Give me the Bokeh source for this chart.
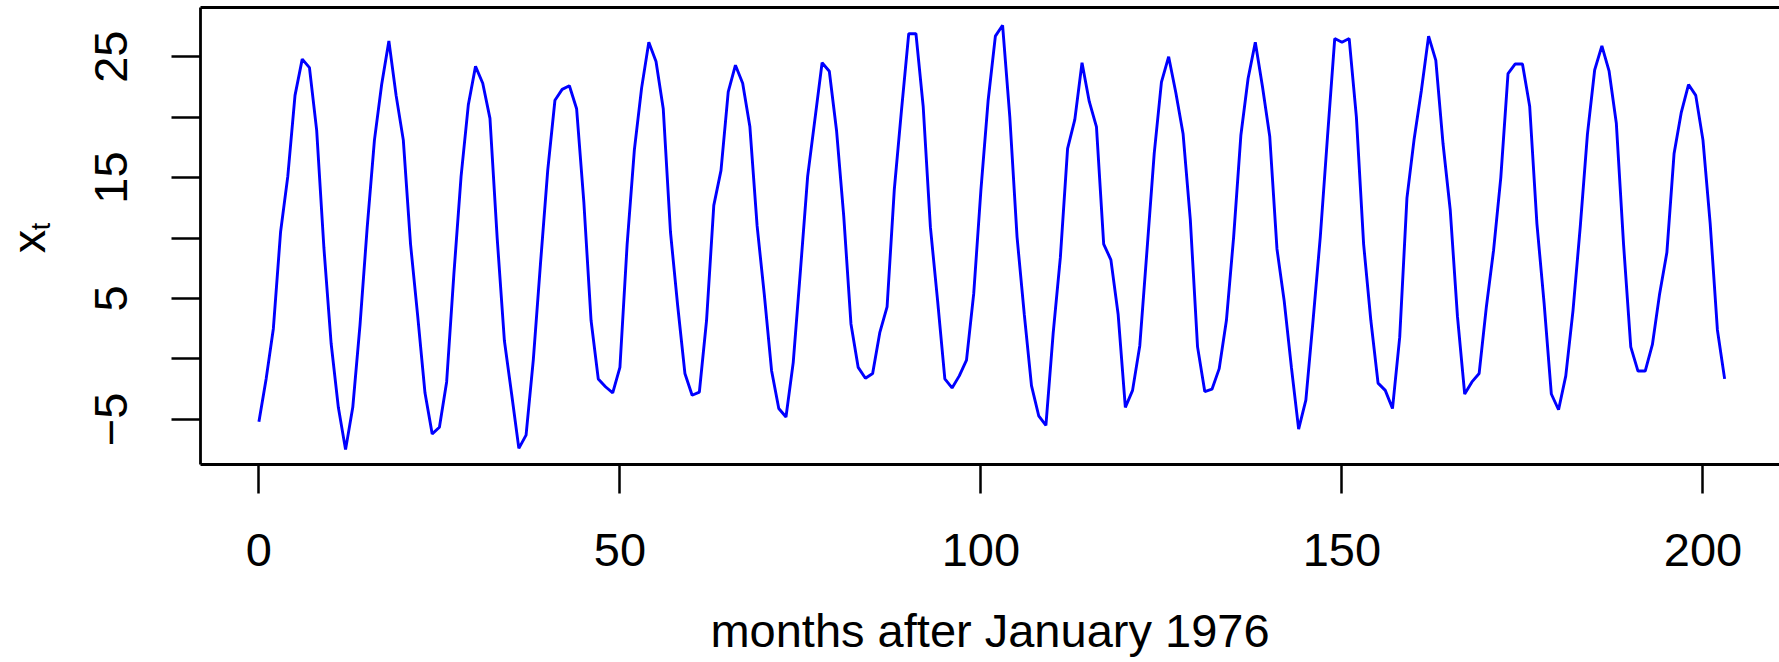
import math
from bokeh.plotting import figure
from bokeh.layouts import row
from bokeh.models import Range1d, FixedTicker, LinearAxis
from bokeh.core.properties import value
from bokeh.embed import file_html
from bokeh.resources import INLINE

# months after January 1976
months = list(range(204))
# series values x_t
xt = [
    -5.2, -1.65, 2.5, 10.5, 15.1, 21.8, 24.8, 24.1, 18.9, 9.2,
    1.3, -4.0, -7.5, -4.0, 2.8, 10.9, 18.1, 22.7, 26.3, 21.8,
    18.1, 9.5, 3.5, -2.8, -6.2, -5.65, -1.9, 7.0, 15.1, 21.0,
    24.2, 22.8, 19.9, 10.0, 1.5, -2.9, -7.4, -6.3, -0.1, 7.9,
    15.6, 21.4, 22.3, 22.6, 20.7, 13.0, 3.2, -1.65, -2.3, -2.8,
    -0.7, 9.5, 17.3, 22.4, 26.2, 24.6, 20.7, 10.5, 4.4, -1.2,
    -3.0, -2.75, 3.2, 12.7, 15.6, 22.1, 24.3, 22.8, 19.2, 11.0,
    5.3, -0.95, -4.1, -4.8, -0.3, 7.3, 15.1, 19.8, 24.5, 23.8,
    18.9, 11.8, 2.9, -0.7, -1.6, -1.2, 2.2, 4.3, 14.0, 20.6,
    26.9, 26.9, 20.9, 10.9, 4.8, -1.65, -2.4, -1.4, -0.1, 5.4,
    14.0, 21.4, 26.7, 27.6, 20.0, 10.1, 3.7, -2.2, -4.7, -5.5,
    2.1, 8.4, 17.4, 19.8, 24.5, 21.3, 19.2, 9.5, 8.2, 3.7,
    -4.0, -2.6, 1.1, 9.0, 17.0, 22.9, 25.0, 22.0, 18.6, 11.5,
    1.0, -2.7, -2.5, -0.8, 3.2, 10.1, 18.5, 23.2, 26.2, 22.5,
    18.4, 9.1, 4.8, -0.7, -5.8, -3.4, 3.2, 10.1, 18.4, 26.5,
    26.2, 26.5, 20.0, 9.5, 3.2, -2.0, -2.6, -4.1, 1.8, 13.3,
    18.2, 22.2, 26.7, 24.7, 17.8, 12.3, 3.5, -2.9, -1.9, -1.2,
    4.3, 9.0, 15.0, 23.6, 24.4, 24.4, 20.9, 11.2, 4.6, -2.9,
    -4.2, -1.4, 4.0, 10.9, 18.6, 23.9, 25.9, 23.8, 19.5, 9.5,
    1.0, -1.0, -1.0, 1.2, 5.4, 8.8, 17.0, 20.4, 22.7, 21.8,
    18.1, 11.2, 2.4, -1.65,
]
x_ticks = [0, 50, 100, 150, 200]
y_ticks = [-5, 0, 5, 10, 15, 20, 25]
y_tick_labels = {-5: "\u22125", 0: "", 5: "5", 10: "", 15: "15", 20: "", 25: "25"}
x_title = "months after January 1976"
y_title_main = ["x"]
y_title_sub = ["t"]

FONT = "Liberation Sans"
FS = "47px"
TOP, BOTTOM = 7, 198

# ---- main panel ----
p = figure(width=1723, height=662, output_backend="svg", toolbar_location=None,
           x_range=Range1d(-8.09, 210.6), y_range=Range1d(-8.73, 29.07),
           x_axis_type=None, y_axis_type=None,
           min_border_left=144, min_border_right=0, min_border_top=TOP, min_border_bottom=BOTTOM)
p.outline_line_color = None
p.xgrid.visible = False
p.ygrid.visible = False

p.line(months, xt, line_color="#0000FF", line_width=2.9)

def style_axis(ax):
    ax.axis_line_color = "black"
    ax.axis_line_width = 2.8
    ax.major_tick_line_color = "black"
    ax.major_tick_line_width = 2.5
    ax.major_tick_in = 0
    ax.major_tick_out = 29
    ax.minor_tick_line_color = None
    ax.major_label_text_font = FONT
    ax.major_label_text_font_size = FS
    ax.major_label_text_color = "black"
    ax.axis_label_text_font = FONT
    ax.axis_label_text_font_size = FS
    ax.axis_label_text_font_style = "normal"
    ax.axis_label_text_color = "black"

xa = LinearAxis(ticker=FixedTicker(ticks=x_ticks), axis_label=x_title)
style_axis(xa)
xa.major_label_standoff = 40
xa.axis_label_standoff = 35
p.add_layout(xa, "below")

ya = LinearAxis(ticker=FixedTicker(ticks=y_ticks))
style_axis(ya)
ya.major_label_overrides = y_tick_labels
ya.major_label_orientation = "parallel"
ya.major_label_standoff = 44
p.add_layout(ya, "left")

ta = LinearAxis(ticker=FixedTicker(ticks=[]))
style_axis(ta)
ta.major_tick_out = 0
ta.major_label_standoff = 0
ta.major_label_text_font_size = "0px"
p.add_layout(ta, "above")

# ---- narrow strip holding the rotated y title  x_t ----
# its frame is aligned with the main frame (rows 7..464 of the page); data y = 662 - page row
q = figure(width=56, height=662, output_backend="svg", toolbar_location=None,
           x_range=Range1d(0, 56), y_range=Range1d(BOTTOM, 662 - TOP),
           x_axis_type=None, y_axis_type=None,
           min_border_left=0, min_border_right=0, min_border_top=TOP, min_border_bottom=BOTTOM)
q.outline_line_color = None
q.xgrid.visible = False
q.ygrid.visible = False
q.text(x=[27.5], y=[662 - 241], text=y_title_main, angle=math.pi / 2,
       text_font=value(FONT), text_font_size="47px", text_color="black",
       text_align="center", text_baseline="middle")
q.text(x=[40], y=[662 - 226], text=y_title_sub, angle=math.pi / 2,
       text_font=value(FONT), text_font_size="27px", text_color="black",
       text_align="center", text_baseline="middle")

layout = row(q, p, spacing=0)
open("out.html", "w").write(file_html(layout, INLINE))
